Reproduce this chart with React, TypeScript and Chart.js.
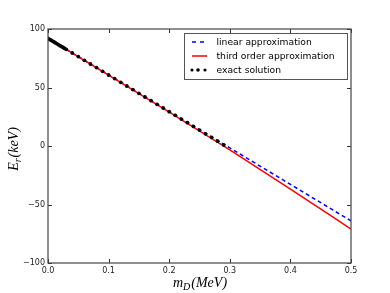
import React, { useEffect, useRef } from "react";
import { Chart, registerables } from "chart.js";

Chart.register(...registerables);

// Data
const linearM = [0, 0.5];
const linearE = [92, -64];

const thirdM = [0, 0.1, 0.2, 0.3, 0.4, 0.5];
const thirdE = [92, 60.6, 29.0, -3.4, -36.8, -71];

const exactM = [
  0, 0.0025, 0.005, 0.0075, 0.01, 0.0125, 0.015, 0.0175, 0.02, 0.0225, 0.025, 0.0275, 0.03,
  0.04, 0.05, 0.06, 0.07, 0.08, 0.09, 0.1, 0.11, 0.12, 0.13, 0.14, 0.15, 0.16, 0.17, 0.18,
  0.19, 0.2, 0.21, 0.22, 0.23, 0.24, 0.25, 0.26, 0.27, 0.28, 0.29,
];
const exactE = [
  92, 91.2, 90.4, 89.7, 88.9, 88.1, 87.3, 86.5, 85.7, 85.0, 84.2, 83.4, 82.6,
  79.5, 76.4, 73.2, 70.1, 67.0, 63.8, 60.7, 57.6, 54.4, 51.3, 48.2, 45.0, 41.9, 38.7, 35.6,
  32.5, 29.3, 26.2, 23.0, 19.9, 16.7, 13.6, 10.4, 7.3, 4.1, 0.9,
];

const xTicks = [0, 0.1, 0.2, 0.3, 0.4, 0.5];
const yTicks = [-100, -50, 0, 50, 100];

const legendLabels = ["linear approximation", "third order approximation", "exact solution"];

const BLUE = "#0000ff";
const RED = "#ff0000";

const toPts = (xs: number[], ys: number[]) => xs.map((x, i) => ({ x, y: ys[i] }));

const framePlugin = {
  id: "frameAndTitles",
  afterDatasetsDraw(chart: any) {
    const { ctx, chartArea, scales } = chart;
    const { left, right, top, bottom } = chartArea;
    ctx.save();
    // inward ticks
    ctx.strokeStyle = "#333";
    ctx.lineWidth = 1;
    const tl = 4;
    xTicks.forEach((v) => {
      const px = Math.round(scales.x.getPixelForValue(v)) + 0.5;
      ctx.beginPath();
      ctx.moveTo(px, bottom);
      ctx.lineTo(px, bottom - tl);
      ctx.moveTo(px, top);
      ctx.lineTo(px, top + tl);
      ctx.stroke();
    });
    yTicks.forEach((v) => {
      const py = Math.round(scales.y.getPixelForValue(v)) + 0.5;
      ctx.beginPath();
      ctx.moveTo(left, py);
      ctx.lineTo(left + tl, py);
      ctx.moveTo(right, py);
      ctx.lineTo(right - tl, py);
      ctx.stroke();
    });
    // frame
    ctx.strokeStyle = "#444";
    ctx.lineWidth = 1.2;
    ctx.strokeRect(left, top, right - left, bottom - top);

    // legend
    const lx = 184, ly = 33, lw = 163, lh = 46;
    ctx.fillStyle = "#fff";
    ctx.fillRect(lx, ly, lw, lh);
    ctx.strokeStyle = "#555";
    ctx.lineWidth = 1;
    ctx.strokeRect(lx + 0.5, ly + 0.5, lw, lh);
    const rows = [42, 56, 70];
    ctx.font = "9.2px 'DejaVu Sans'";
    ctx.textBaseline = "middle";
    ctx.textAlign = "left";
    // blue dashed
    ctx.strokeStyle = BLUE;
    ctx.lineWidth = 1.5;
    ctx.setLineDash([4, 4]);
    ctx.beginPath();
    ctx.moveTo(192, rows[0]);
    ctx.lineTo(207, rows[0]);
    ctx.stroke();
    ctx.setLineDash([]);
    // red
    ctx.strokeStyle = RED;
    ctx.beginPath();
    ctx.moveTo(192, rows[1]);
    ctx.lineTo(207, rows[1]);
    ctx.stroke();
    // dots
    ctx.fillStyle = "#000";
    [192, 198, 205].forEach((dx, i) => {
      ctx.beginPath();
      ctx.arc(dx, rows[2], i === 1 ? 1.8 : 1.6, 0, Math.PI * 2);
      ctx.fill();
    });
    ctx.fillStyle = "#000";
    legendLabels.forEach((t, i) => ctx.fillText(t, 216.5, rows[i] + 0.5));

    // axis titles (math style)
    const big = "italic 14px 'Liberation Serif'";
    const small = "italic 10px 'Liberation Serif'";
    const drawTitle = (main: string, sub: string, rest: string) => {
      ctx.font = big;
      const w1 = ctx.measureText(main).width;
      const w3 = ctx.measureText(rest).width;
      ctx.font = small;
      const w2 = ctx.measureText(sub).width;
      const total = w1 + w2 + w3 + 1;
      let x = -total / 2;
      ctx.textAlign = "left";
      ctx.textBaseline = "alphabetic";
      ctx.font = big;
      ctx.fillText(main, x, 0);
      x += w1;
      ctx.font = small;
      ctx.fillText(sub, x, 3);
      x += w2 + 1;
      ctx.font = big;
      ctx.fillText(rest, x, 0);
    };
    ctx.fillStyle = "#000";
    ctx.save();
    ctx.translate(200, 287);
    drawTitle("m", "D", "(MeV)");
    ctx.restore();
    ctx.save();
    ctx.translate(18, 149);
    ctx.rotate(-Math.PI / 2);
    drawTitle("E", "r", "(keV)");
    ctx.restore();
    ctx.restore();
  },
};

export default function App() {
  const ref = useRef<HTMLCanvasElement>(null);
  useEffect(() => {
    document.body.style.margin = "0";
    const canvas = ref.current;
    if (!canvas) return;
    const chart = new Chart(canvas, {
      type: "scatter",
      data: {
        datasets: [
          {
            label: legendLabels[0],
            data: toPts(linearM, linearE),
            showLine: true,
            borderColor: BLUE,
            borderWidth: 1.5,
            borderDash: [4, 3],
            pointRadius: 0,
            order: 3,
          },
          {
            label: legendLabels[1],
            data: toPts(thirdM, thirdE),
            showLine: true,
            borderColor: RED,
            borderWidth: 1.5,
            pointRadius: 0,
            cubicInterpolationMode: "monotone",
            order: 2,
          },
          {
            label: legendLabels[2],
            data: toPts(exactM, exactE),
            showLine: false,
            pointRadius: 1.9,
            pointBackgroundColor: "#000",
            pointBorderWidth: 0,
            order: 1,
          },
        ],
      },
      options: {
        animation: false,
        responsive: false,
        layout: { padding: { top: 29, right: 39, left: 0, bottom: 0 } },
        plugins: { legend: { display: false }, tooltip: { enabled: false } },
        scales: {
          x: {
            type: "linear",
            min: 0,
            max: 0.5,
            grid: { display: false, drawTicks: false },
            border: { display: false },
            afterBuildTicks: (s: any) => {
              s.ticks = xTicks.map((v) => ({ value: v }));
            },
            afterFit: (s: any) => {
              s.height = 30;
            },
            ticks: {
              padding: 3,
              color: "#222",
              font: { family: "'DejaVu Sans'", size: 8 },
              maxRotation: 0,
              callback: (v: any) => Number(v).toFixed(1),
            },
          },
          y: {
            type: "linear",
            min: -100,
            max: 100,
            grid: { display: false, drawTicks: false },
            border: { display: false },
            afterBuildTicks: (s: any) => {
              s.ticks = yTicks.map((v) => ({ value: v }));
            },
            afterFit: (s: any) => {
              s.width = 48;
            },
            ticks: {
              padding: 3,
              color: "#222",
              font: { family: "'DejaVu Sans'", size: 8 },
              callback: (v: any) => (Number(v) < 0 ? "\u2212" + Math.abs(Number(v)) : String(v)),
            },
          },
        },
      },
      plugins: [framePlugin],
    } as any);
    return () => chart.destroy();
  }, []);
  return <canvas ref={ref} width={390} height={293} style={{ display: "block" }} />;
}
